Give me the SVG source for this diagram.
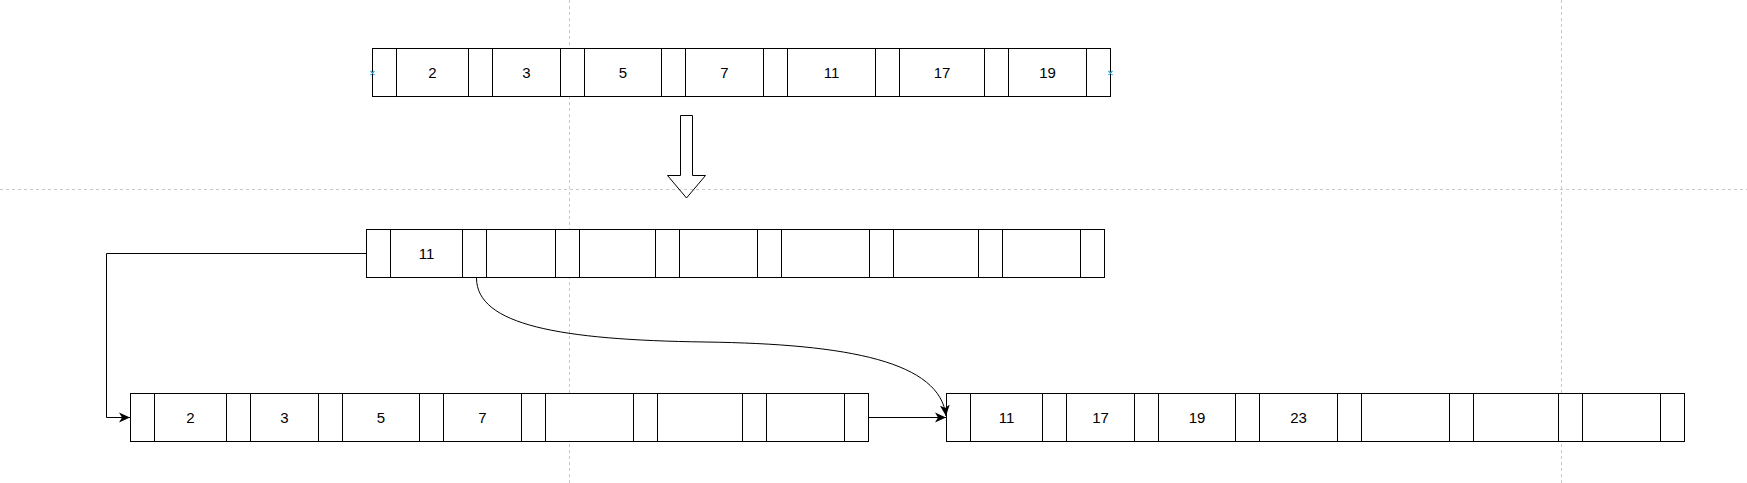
<svg xmlns="http://www.w3.org/2000/svg" width="1747" height="483" viewBox="0 0 1747 483">
<style>
.grid{stroke:#c8c8c8;stroke-width:1;stroke-dasharray:3 3;fill:none}
.box{fill:#fff;stroke:#000;stroke-width:1}
.div{stroke:#000;stroke-width:1}
.lbl{font-family:"Liberation Sans",Arial,sans-serif;font-size:15px;fill:#000;text-anchor:middle}
.edge{fill:none;stroke:#000;stroke-width:1}
.pt{stroke:#29a8e0;stroke-width:1.2;fill:none}
</style>
<defs>
<marker id="arr" markerUnits="userSpaceOnUse" markerWidth="13" markerHeight="13" viewBox="0 0 13 13" refX="11" refY="6.5" orient="auto">
<path d="M0,1.5 L11,6.5 L0,11.5 L3,6.5 Z" fill="#000"/>
</marker>
</defs>
<rect width="1747" height="483" fill="#fff"/>
<g id="grid">
<line class="grid" x1="569.5" y1="0" x2="569.5" y2="483"/>
<line class="grid" x1="1561.5" y1="0" x2="1561.5" y2="483"/>
<line class="grid" x1="0" y1="189.5" x2="1747" y2="189.5"/>
</g>
<g id="row1">
<rect class="box" x="372.5" y="48.5" width="738" height="48"/>
<path class="div" d="M396.5 48.5V96.5M468.5 48.5V96.5M492.5 48.5V96.5M560.5 48.5V96.5M584.5 48.5V96.5M661.5 48.5V96.5M685.5 48.5V96.5M763.5 48.5V96.5M787.5 48.5V96.5M875.5 48.5V96.5M899.5 48.5V96.5M984.5 48.5V96.5M1008.5 48.5V96.5M1086.5 48.5V96.5"/>
<text class="lbl" x="432.5" y="78">2</text>
<text class="lbl" x="526.5" y="78">3</text>
<text class="lbl" x="623" y="78">5</text>
<text class="lbl" x="724.5" y="78">7</text>
<text class="lbl" x="831.5" y="78">11</text>
<text class="lbl" x="942" y="78">17</text>
<text class="lbl" x="1047.5" y="78">19</text>
<path class="pt" d="M370.5 71 l4 4 M374.5 71 l-4 4 M1108.5 71 l4 4 M1112.5 71 l-4 4"/>
</g>
<g id="bigArrow">
<polygon fill="none" stroke="#000" stroke-width="1" points="680.5,115.5 692.5,115.5 692.5,175.5 705.5,175.5 686.5,198 667.5,175.5 680.5,175.5"/>
</g>
<g id="row2">
<rect class="box" x="366.5" y="229.5" width="738" height="48"/>
<path class="div" d="M390.5 229.5V277.5M462.5 229.5V277.5M486.5 229.5V277.5M555.5 229.5V277.5M579.5 229.5V277.5M655.5 229.5V277.5M679.5 229.5V277.5M757.5 229.5V277.5M781.5 229.5V277.5M869.5 229.5V277.5M893.5 229.5V277.5M978.5 229.5V277.5M1002.5 229.5V277.5M1080.5 229.5V277.5"/>
<text class="lbl" x="426.5" y="259">11</text>
</g>
<g id="row3">
<rect class="box" x="130.5" y="393.5" width="738" height="48"/>
<path class="div" d="M154.5 393.5V441.5M226.5 393.5V441.5M250.5 393.5V441.5M318.5 393.5V441.5M342.5 393.5V441.5M419.5 393.5V441.5M443.5 393.5V441.5M521.5 393.5V441.5M545.5 393.5V441.5M633.5 393.5V441.5M657.5 393.5V441.5M742.5 393.5V441.5M766.5 393.5V441.5M844.5 393.5V441.5"/>
<text class="lbl" x="190.5" y="422.5">2</text>
<text class="lbl" x="284.5" y="422.5">3</text>
<text class="lbl" x="381" y="422.5">5</text>
<text class="lbl" x="482.5" y="422.5">7</text>
</g>
<g id="row4">
<rect class="box" x="946.5" y="393.5" width="738" height="48"/>
<path class="div" d="M970.5 393.5V441.5M1042.5 393.5V441.5M1066.5 393.5V441.5M1134.5 393.5V441.5M1158.5 393.5V441.5M1235.5 393.5V441.5M1259.5 393.5V441.5M1337.5 393.5V441.5M1361.5 393.5V441.5M1449.5 393.5V441.5M1473.5 393.5V441.5M1558.5 393.5V441.5M1582.5 393.5V441.5M1660.5 393.5V441.5"/>
<text class="lbl" x="1006.5" y="422.5">11</text>
<text class="lbl" x="1100.5" y="422.5">17</text>
<text class="lbl" x="1197" y="422.5">19</text>
<text class="lbl" x="1298.5" y="422.5">23</text>
</g>
<g id="connectors">
<path class="edge" d="M366.5 253.5H106.5V417.5H130" marker-end="url(#arr)"/>
<path class="edge" d="M868.5 417.5H946" marker-end="url(#arr)"/>
<path class="edge" d="M476.5 278C476.5 325 560 340 705 342C850 344 940 362 946 416" marker-end="url(#arr)"/>
</g>
</svg>
